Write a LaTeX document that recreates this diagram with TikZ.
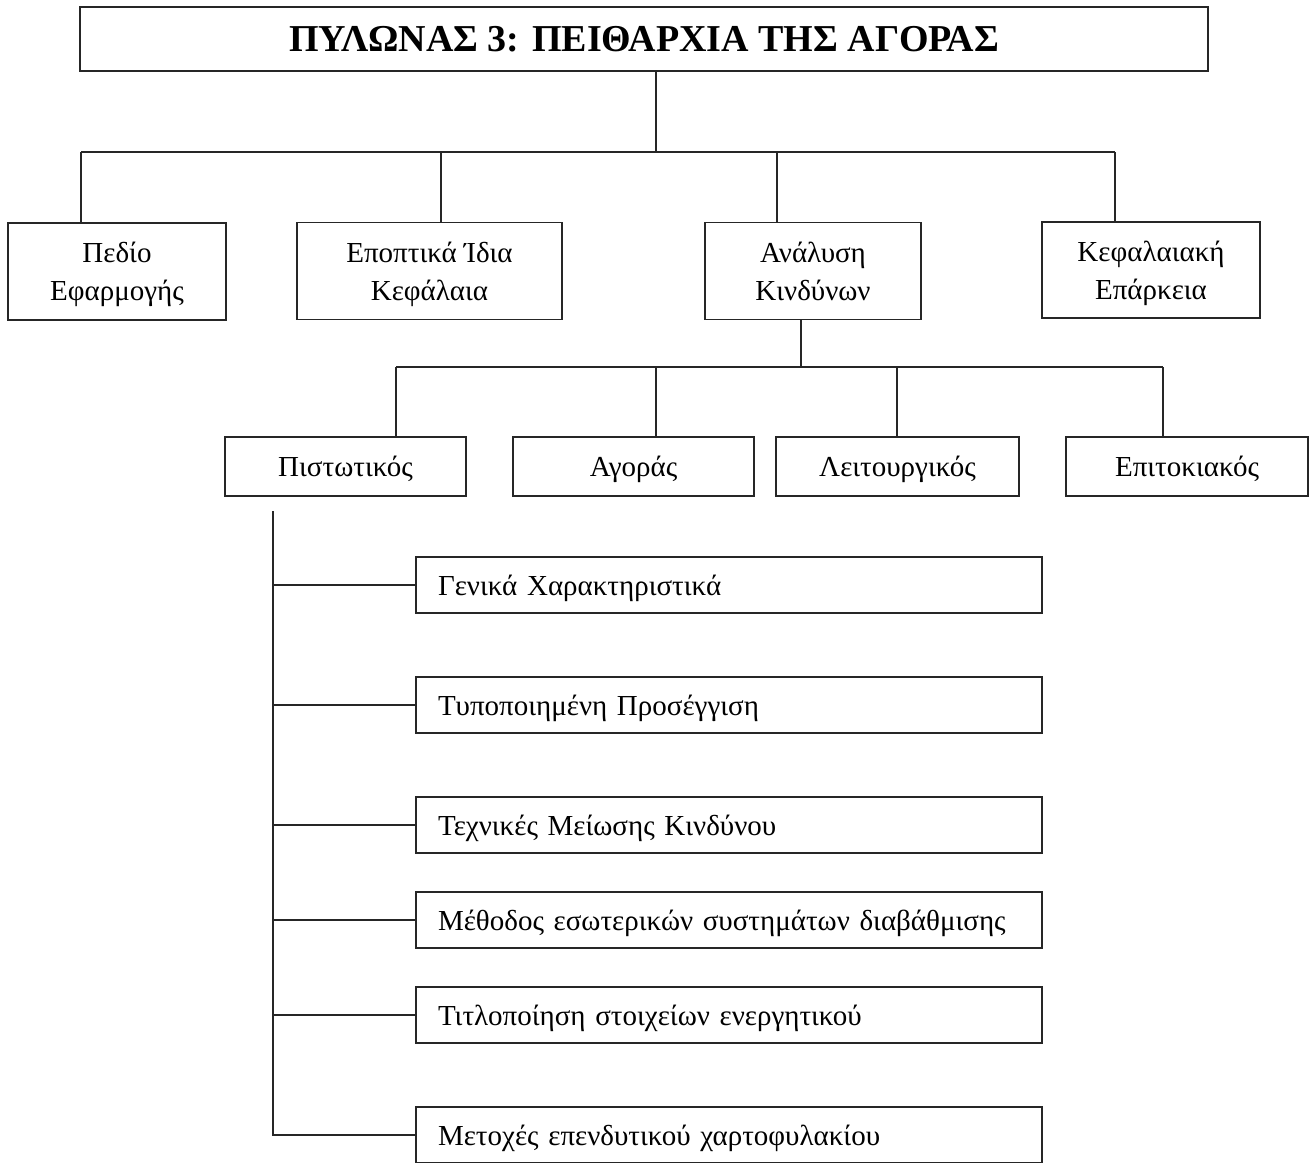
\documentclass[tikz,border=0pt]{standalone}
\usepackage{fontspec}
\setmainfont{Liberation Serif}
\begin{document}
\begin{tikzpicture}[x=1pt,y=-1pt,
  line width=1.8pt,
  every node/.style={draw=black!85, line width=1.8pt, inner sep=0pt, outer sep=0pt},
  box/.style={minimum width=#1, align=center, font=\fontsize{29}{38}\selectfont},
  twoline/.style={box=#1, minimum height=97pt, text depth=0pt},
  oneline/.style={box=#1, minimum height=59pt, text height=20pt, text depth=0pt},
  item/.style={minimum width=626pt, minimum height=56pt, text width=582pt,
    inner xsep=22pt, align=left, text height=20pt, text depth=0pt,
    font=\fontsize{29}{38}\selectfont},
  link/.style={draw=black!85, line width=1.8pt}
]
\useasboundingbox (0,0) rectangle (1316,1162);

% title
\node[minimum width=1128pt, minimum height=64pt,
  font=\fontsize{38}{44}\selectfont\bfseries] (title) at (644,39)
  {ΠΥΛΩΝΑΣ 3: ΠΕΙΘΑΡΧΙΑ ΤΗΣ ΑΓΟΡΑΣ};

% first level
\node[twoline=218pt] (scope) at (117,271.5) {Πεδίο\\Εφαρμογής};
\node[twoline=265pt] (funds) at (429.5,271) {Εποπτικά Ίδια\\Κεφάλαια};
\node[twoline=216pt] (risk)  at (813,271) {Ανάλυση\\Κινδύνων};
\node[twoline=218pt, minimum height=96pt] (adeq) at (1151,270) {Κεφαλαιακή\\Επάρκεια};

% second level
\node[oneline=241pt] (credit) at (345.5,466.5) {Πιστωτικός};
\node[oneline=241pt] (market) at (633.5,466.5) {Αγοράς};
\node[oneline=243pt] (oper)   at (897.5,466.5) {Λειτουργικός};
\node[oneline=242pt] (rate)   at (1187,466.5) {Επιτοκιακός};

% credit risk items
\node[item] (c1) at (729,585)  {Γενικά Χαρακτηριστικά};
\node[item] (c2) at (729,705)  {Τυποποιημένη Προσέγγιση};
\node[item] (c3) at (729,825)  {Τεχνικές Μείωσης Κινδύνου};
\node[item] (c4) at (729,920)  {Μέθοδος εσωτερικών συστημάτων διαβάθμισης};
\node[item] (c5) at (729,1015) {Τιτλοποίηση στοιχείων ενεργητικού};
\node[item] (c6) at (729,1135) {Μετοχές επενδυτικού χαρτοφυλακίου};

% junctions of the first bus
\coordinate (t0) at (656,152);
\coordinate (t1) at (81,152);
\coordinate (t2) at (441,152);
\coordinate (t3) at (777,152);
\coordinate (t4) at (1115,152);
\draw[link] (title.south -| t0) -- (t0);
\draw[link] (t1) -- (t4);
\draw[link] (t1) -- (t1 |- scope.north);
\draw[link] (t2) -- (t2 |- funds.north);
\draw[link] (t3) -- (t3 |- risk.north);
\draw[link] (t4) -- (t4 |- adeq.north);

% junctions of the second bus
\coordinate (r0) at (801,367);
\coordinate (r1) at (396,367);
\coordinate (r2) at (656,367);
\coordinate (r3) at (897,367);
\coordinate (r4) at (1163,367);
\draw[link] (risk.south -| r0) -- (r0);
\draw[link] (r1) -- (r4);
\draw[link] (r1) -- (r1 |- credit.north);
\draw[link] (r2) -- (r2 |- market.north);
\draw[link] (r3) -- (r3 |- oper.north);
\draw[link] (r4) -- (r4 |- rate.north);

% spine under the credit risk box
\coordinate (sp) at (273,511);
\draw[link] (sp) -- (sp |- c6.west) -- (c6.west);
\foreach \n in {c1,c2,c3,c4,c5}
  \draw[link] (sp |- \n.west) -- (\n.west);
\end{tikzpicture}
\end{document}
